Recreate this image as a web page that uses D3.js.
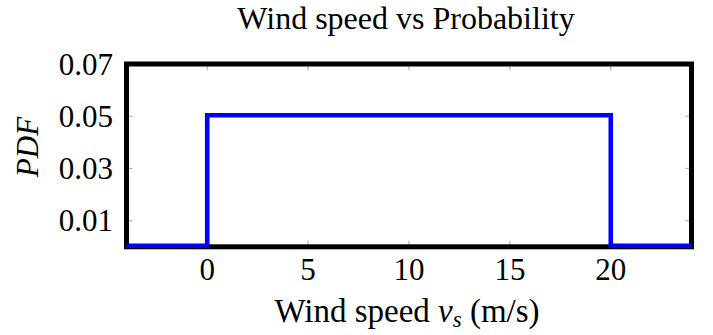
<!DOCTYPE html>
<html>
<head>
<meta charset="utf-8">
<script src="https://cdn.jsdelivr.net/npm/d3@7"></script>
<style>
  body { margin: 0; background: #fff; }
  text { font-family: "Liberation Serif", "Times New Roman", serif; fill: #000; }
</style>
</head>
<body>
<div id="chart"></div>
<script>
// data (uniform pdf, drawn as steps)
var windSpeed = [-4, 0, 20, 24];
var pdf = [0, 0.05, 0, 0];
var xTicks = [0, 5, 10, 15, 20];
var yTicks = [0.01, 0.03, 0.05, 0.07];

var w = 713, h = 335;
var plotLeft = 126.5, plotRight = 691.5, plotTop = 64, plotBottom = 246.8;

var svg = d3.select("#chart").append("svg")
  .attr("width", w)
  .attr("height", h);

var x = d3.scaleLinear().domain([-4, 24]).range([plotLeft, plotRight]);
var y = d3.scaleLinear().domain([0, 0.07]).range([plotBottom, plotTop]);

// small grey ticks on all four sides, pointing in
var tickLen = 6;
function ticks(cls, data, fx1, fy1, fx2, fy2) {
  svg.selectAll("line." + cls).data(data).enter().append("line")
    .attr("class", cls)
    .attr("x1", fx1).attr("y1", fy1)
    .attr("x2", fx2).attr("y2", fy2)
    .style("stroke", "#b0b0b0").style("stroke-width", 1.2);
}
ticks("xb", xTicks, d => x(d), plotBottom, d => x(d), plotBottom - tickLen);
ticks("xt", xTicks, d => x(d), plotTop, d => x(d), plotTop + tickLen);
ticks("yl", yTicks, plotLeft, d => y(d), plotLeft + tickLen, d => y(d));
ticks("yr", yTicks, plotRight, d => y(d), plotRight - tickLen, d => y(d));

// frame
svg.append("rect")
  .attr("x", plotLeft).attr("y", plotTop)
  .attr("width", plotRight - plotLeft).attr("height", plotBottom - plotTop)
  .style("fill", "none").style("stroke", "#000").style("stroke-width", 5);

// the pdf line
var line = d3.line()
  .x((d, i) => x(windSpeed[i]))
  .y(d => y(d))
  .curve(d3.curveStepAfter);

svg.append("path")
  .datum(pdf)
  .attr("d", line)
  .attr("transform", "translate(0,-1)")
  .style("fill", "none")
  .style("stroke", "#0000ff")
  .style("stroke-width", 4.6);

// tick labels
svg.selectAll("text.xl").data(xTicks).enter().append("text")
  .attr("class", "xl")
  .attr("x", d => x(d)).attr("y", 280)
  .attr("text-anchor", "middle")
  .style("font-size", "31px")
  .text(d => d);

svg.selectAll("text.yl").data(yTicks).enter().append("text")
  .attr("class", "yl")
  .attr("x", 113).attr("y", d => y(d) + 10.5)
  .attr("text-anchor", "end")
  .style("font-size", "31px")
  .text(d => d3.format(".2f")(d));

// title
svg.append("text")
  .attr("x", 406).attr("y", 28.5)
  .attr("text-anchor", "middle")
  .style("font-size", "32px")
  .text("Wind speed vs Probability");

// x axis label
var xl = svg.append("text")
  .attr("x", 407).attr("y", 322)
  .attr("text-anchor", "middle")
  .style("font-size", "33px");
xl.append("tspan").text("Wind speed ");
xl.append("tspan").style("font-style", "italic").text("v");
xl.append("tspan").style("font-style", "italic").style("font-size", "23px").attr("dy", 5).text("s");
xl.append("tspan").attr("dy", -5).text(" (m/s)");

// y axis label
svg.append("text")
  .attr("transform", "translate(38,147) rotate(-90)")
  .attr("text-anchor", "middle")
  .style("font-size", "31px")
  .style("font-style", "italic")
  .text("PDF");
</script>
</body>
</html>
